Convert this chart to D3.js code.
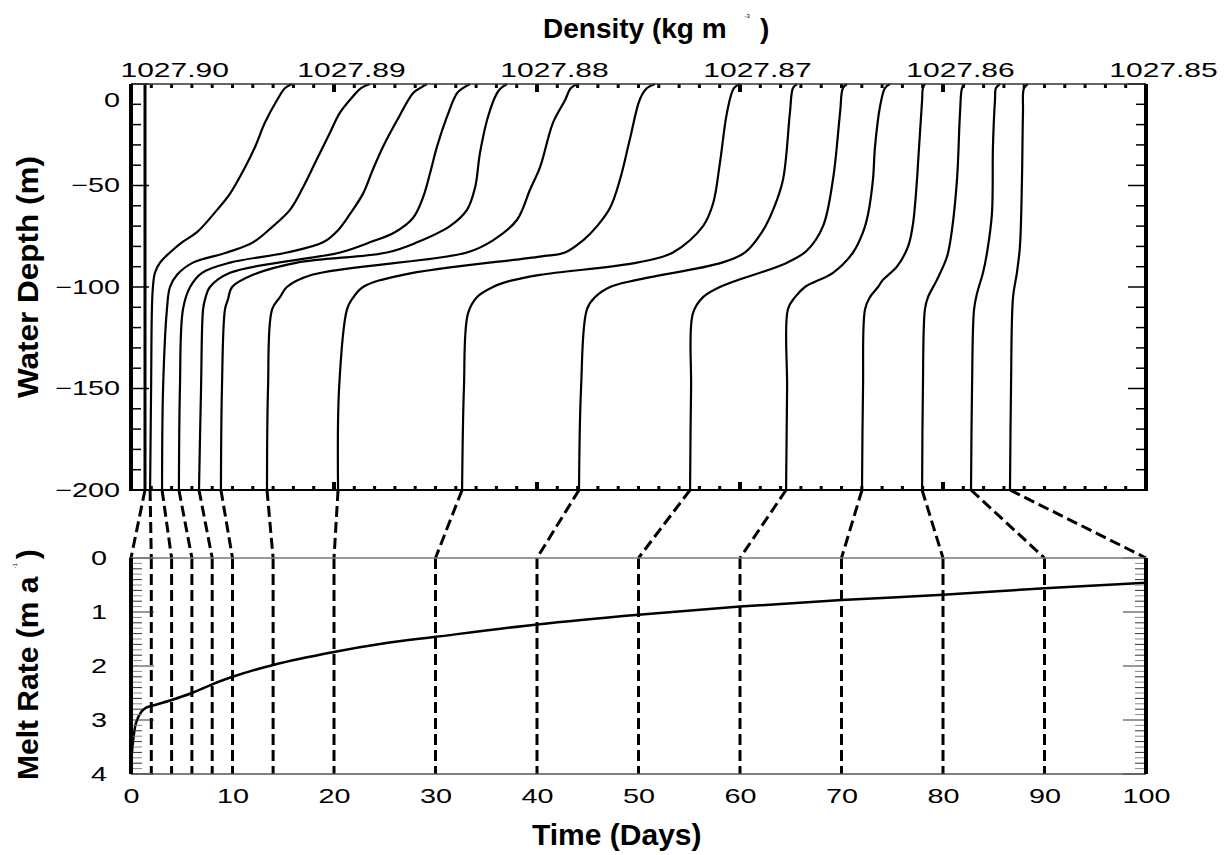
<!DOCTYPE html>
<html>
<head>
<meta charset="utf-8">
<script src="https://cdnjs.cloudflare.com/ajax/libs/d3/7.8.5/d3.min.js"></script>
<style>
  body { margin: 0; background: #fff; }
  text { font-family: "Liberation Sans", Arial, sans-serif; fill: #000; }
</style>
</head>
<body>
<div id="chart-area"></div>
<script>
// time of each profile (days)
var days = [0, 2, 4, 6, 8, 10, 14, 20, 30, 40, 50, 60, 70, 80, 90, 100];

// density profiles [depth (m), density (kg m-3)]
var p000 = [[0,1027.89931],[-200,1027.89931]];
var p002 = [[0,1027.89207],[-2,1027.89241],[-8,1027.89281],[-19,1027.89340],[-31,1027.89389],[-41,1027.89438],[-54,1027.89512],[-62,1027.89576],[-73,1027.89675],[-78,1027.89749],[-83,1027.89808],[-88,1027.89857],[-93,1027.89882],[-100,1027.89892],[-111,1027.89897],[-150,1027.89901],[-200,1027.89906]];
var p004 = [[0,1027.88823],[-2,1027.88867],[-6,1027.88906],[-14,1027.88970],[-24,1027.89020],[-37,1027.89084],[-51,1027.89153],[-62,1027.89217],[-70,1027.89300],[-78,1027.89399],[-83,1027.89527],[-88,1027.89695],[-94,1027.89773],[-100,1027.89808],[-111,1027.89823],[-150,1027.89842],[-200,1027.89847]];
var p006 = [[0,1027.88542],[-2,1027.88576],[-4.5,1027.88611],[-18,1027.88690],[-31,1027.88759],[-42,1027.88808],[-54,1027.88857],[-64,1027.88921],[-72,1027.88980],[-78,1027.89054],[-83,1027.89232],[-88,1027.89512],[-93,1027.89650],[-100,1027.89709],[-111,1027.89744],[-150,1027.89759],[-200,1027.89764]];
var p008 = [[0,1027.88330],[-2,1027.88365],[-4.5,1027.88394],[-16,1027.88443],[-31,1027.88493],[-44,1027.88527],[-56,1027.88562],[-66,1027.88611],[-73,1027.88700],[-78,1027.88823],[-83,1027.88970],[-93,1027.89512],[-100,1027.89611],[-106,1027.89635],[-111,1027.89645],[-150,1027.89655],[-200,1027.89665]];
var p010 = [[0,1027.88148],[-2,1027.88177],[-4.5,1027.88197],[-16,1027.88241],[-34,1027.88281],[-51,1027.88305],[-62,1027.88345],[-70,1027.88429],[-78,1027.88591],[-83,1027.88739],[-88,1027.89182],[-94,1027.89399],[-100,1027.89502],[-106,1027.89522],[-111,1027.89537],[-150,1027.89552],[-200,1027.89557]];
var p014 = [[0,1027.87798],[-2,1027.87833],[-8,1027.87862],[-19,1027.87921],[-41,1027.87985],[-52,1027.88034],[-67,1027.88099],[-77,1027.88217],[-83,1027.88345],[-94,1027.89108],[-100,1027.89232],[-105,1027.89266],[-111,1027.89305],[-150,1027.89325],[-200,1027.89330]];
var p020 = [[0,1027.87419],[-2,1027.87458],[-7.5,1027.87493],[-27,1027.87542],[-47,1027.87591],[-61,1027.87640],[-70,1027.87704],[-77,1027.87773],[-83,1027.87862],[-85,1027.87985],[-94,1027.88660],[-100,1027.88857],[-106,1027.88911],[-111,1027.88936],[-150,1027.88975],[-200,1027.88980]];
var p030 = [[0,1027.87000],[-2,1027.87030],[-14,1027.87064],[-39,1027.87099],[-59,1027.87133],[-70,1027.87182],[-83,1027.87330],[-88,1027.87507],[-94,1027.87985],[-97,1027.88133],[-100,1027.88217],[-105,1027.88296],[-113,1027.88340],[-150,1027.88360],[-200,1027.88369]];
var p040 = [[0,1027.86719],[-2,1027.86739],[-14,1027.86754],[-47,1027.86788],[-62,1027.86837],[-73,1027.86892],[-83,1027.86975],[-88,1027.87089],[-96.5,1027.87507],[-100,1027.87640],[-105,1027.87714],[-111,1027.87754],[-150,1027.87783],[-200,1027.87793]];
var p050 = [[0,1027.86473],[-2,1027.86493],[-14,1027.86507],[-47,1027.86542],[-70,1027.86591],[-82,1027.86670],[-88,1027.86768],[-100,1027.87099],[-105,1027.87182],[-113,1027.87232],[-150,1027.87241],[-200,1027.87246]];
var p060 = [[0,1027.86261],[-2,1027.86286],[-11,1027.86310],[-31,1027.86335],[-47,1027.86345],[-64,1027.86369],[-73,1027.86394],[-83,1027.86443],[-93,1027.86542],[-100,1027.86680],[-105,1027.86729],[-111,1027.86764],[-150,1027.86768],[-200,1027.86773]];
var p070 = [[0,1027.86089],[-2,1027.86099],[-8,1027.86103],[-39,1027.86123],[-47,1027.86128],[-69,1027.86148],[-80,1027.86172],[-90,1027.86227],[-96.5,1027.86296],[-100,1027.86320],[-105,1027.86360],[-111,1027.86384],[-150,1027.86394],[-200,1027.86399]];
var p080 = [[0,1027.85892],[-2,1027.85906],[-14,1027.85916],[-47,1027.85931],[-72,1027.85956],[-85,1027.85980],[-96.5,1027.86030],[-105,1027.86074],[-111,1027.86089],[-150,1027.86099],[-200,1027.86103]];
var p090 = [[0,1027.85719],[-2,1027.85739],[-8,1027.85744],[-31,1027.85754],[-64,1027.85759],[-83,1027.85783],[-93,1027.85803],[-103,1027.85832],[-111,1027.85847],[-150,1027.85857],[-200,1027.85862]];
var p100 = [[0,1027.85581],[-2,1027.85601],[-14,1027.85606],[-47,1027.85611],[-80,1027.85621],[-93,1027.85636],[-105,1027.85655],[-150,1027.85665],[-200,1027.85670]];

var profiles = [p000, p002, p004, p006, p008, p010, p014, p020, p030, p040, p050, p060, p070, p080, p090, p100];

// melt rate curve
var meltDays = [0, 0.2, 0.5, 1, 1.5, 2, 4, 6, 8, 10, 14, 20, 25, 30, 40, 50, 60, 70, 80, 90, 100];
var meltRate = [3.85, 3.4, 3.05, 2.85, 2.77, 2.74, 2.63, 2.5, 2.34, 2.2, 1.98, 1.74, 1.58, 1.46, 1.23, 1.05, 0.9, 0.78, 0.68, 0.56, 0.46];

// tick labels
var densityTicks = [1027.90, 1027.89, 1027.88, 1027.87, 1027.86, 1027.85];
var depthTicks = [0, -50, -100, -150, -200];
var meltTicks = [0, 1, 2, 3, 4];
var dayTicks = [0, 10, 20, 30, 40, 50, 60, 70, 80, 90, 100];

var W = 1228, H = 855;
var left = 131, right = 1146;
var topY = 84, topB = 490, botY = 558, botB = 774;

var svg = d3.select("#chart-area")
    .append("svg")
    .attr("width", W)
    .attr("height", H);

// Scales
var xD = d3.scaleLinear().domain([1027.90, 1027.85]).range([left, right]);
var yZ = d3.scaleLinear().domain([0, -200]).range([topY, topB]);
var xT = d3.scaleLinear().domain([0, 100]).range([left, right]);
var yM = d3.scaleLinear().domain([0, 4]).range([botY, botB]);

// ---------- top panel ----------
var profLine = d3.line()
    .x(function(d){ return xD(d[1]); })
    .y(function(d){ return yZ(d[0]); })
    .curve(d3.curveCatmullRom.alpha(0.5));

svg.append("g").selectAll("path")
    .data(profiles)
    .enter().append("path")
    .attr("fill", "none")
    .attr("stroke", "#000")
    .attr("stroke-width", function(d, i){ return i == 0 ? 3 : 2.2; })
    .attr("d", profLine);

// minor / major ticks on density axis (top and bottom of frame)
var minorD = d3.range(0, 51).map(function(i){ return 1027.90 - i * 0.001; });
var tickG = svg.append("g");
minorD.forEach(function(v, i){
    var major = (i % 10 == 0);
    var w = major ? 4 : 3, h = major ? 8 : 4;
    tickG.append("rect").attr("x", xD(v) - w/2).attr("y", topY).attr("width", w).attr("height", h);
    tickG.append("rect").attr("x", xD(v) - w/2).attr("y", topB - h).attr("width", w).attr("height", h);
});

// depth ticks every 10 m
d3.range(0, -201, -10).forEach(function(v){
    var major = (v % 50 == 0);
    tickG.append("line")
        .attr("x1", left).attr("x2", left + (major ? 18 : 10))
        .attr("y1", yZ(v)).attr("y2", yZ(v))
        .attr("stroke", "#000").attr("stroke-width", 1.5);
    tickG.append("line")
        .attr("x1", right).attr("x2", right - (major ? 18 : 10))
        .attr("y1", yZ(v)).attr("y2", yZ(v))
        .attr("stroke", "#000").attr("stroke-width", 1.5);
});

// frame
svg.append("line").attr("x1", left).attr("x2", right).attr("y1", topY).attr("y2", topY)
    .attr("stroke", "#333").attr("stroke-width", 1.5);
svg.append("line").attr("x1", left).attr("x2", right).attr("y1", topB).attr("y2", topB)
    .attr("stroke", "#000").attr("stroke-width", 2);
svg.append("line").attr("x1", left).attr("x2", left).attr("y1", topY).attr("y2", topB + 1)
    .attr("stroke", "#000").attr("stroke-width", 4);
svg.append("line").attr("x1", right).attr("x2", right).attr("y1", topY).attr("y2", topB + 1)
    .attr("stroke", "#000").attr("stroke-width", 4);

// density labels
var topAxis = svg.append("g")
    .attr("transform", "translate(0," + topY + ")")
    .call(d3.axisTop(xD).tickValues(densityTicks).tickSize(0).tickFormat(d3.format(".2f")));
topAxis.select(".domain").remove();
topAxis.selectAll("text")
    .attr("font-size", "20px")
    .attr("font-family", "Liberation Sans, Arial, sans-serif")
    .attr("y", -7).attr("dy", null)
    .attr("text-anchor", function(d, i){ return i == 0 ? "start" : "middle"; })
    .attr("transform", function(d, i){
        return i == 0 ? "translate(-11,0) scale(1.5,1)" : "translate(17,0) scale(1.5,1)";
    });

// depth labels
var leftAxis = svg.append("g")
    .attr("transform", "translate(" + left + ",0)")
    .call(d3.axisLeft(yZ).tickValues(depthTicks).tickSize(0));
leftAxis.select(".domain").remove();
leftAxis.selectAll("text")
    .attr("font-size", "20px")
    .attr("font-family", "Liberation Sans, Arial, sans-serif")
    .attr("x", 0)
    .attr("transform", function(d){ return d == 0 ? "translate(-11,16) scale(1.44,1)" : "translate(-11,0) scale(1.44,1)"; });

// ---------- connectors ----------
var dash = svg.append("g")
    .attr("fill", "none")
    .attr("stroke", "#000")
    .attr("stroke-width", 3)
    .attr("stroke-dasharray", "11,5");
profiles.forEach(function(p, i){
    var bottom = p[p.length - 1];
    dash.append("line")
        .attr("x1", xD(bottom[1])).attr("y1", yZ(bottom[0]))
        .attr("x2", xT(days[i])).attr("y2", yM(0));
    dash.append("line")
        .attr("x1", xT(days[i])).attr("y1", yM(0))
        .attr("x2", xT(days[i])).attr("y2", yM(4));
});

// ---------- bottom panel ----------
var meltLine = d3.line()
    .x(function(d, i){ return xT(meltDays[i]); })
    .y(function(d){ return yM(d); })
    .curve(d3.curveCatmullRom.alpha(0.5));
svg.append("path")
    .attr("fill", "none")
    .attr("stroke", "#000")
    .attr("stroke-width", 2.5)
    .attr("d", meltLine(meltRate));

// melt ticks every 0.1
d3.range(0, 41).forEach(function(i){
    var v = i / 10;
    var major = (i % 10 == 0);
    var len = major ? 23 : 11;
    svg.append("line")
        .attr("x1", left).attr("x2", left + len)
        .attr("y1", yM(v)).attr("y2", yM(v))
        .attr("stroke", i % 2 ? "#888" : "#333").attr("stroke-width", 1);
    svg.append("line")
        .attr("x1", right).attr("x2", right - len)
        .attr("y1", yM(v)).attr("y2", yM(v))
        .attr("stroke", i % 2 ? "#888" : "#333").attr("stroke-width", 1);
});

svg.append("line").attr("x1", left).attr("x2", right).attr("y1", botY).attr("y2", botY)
    .attr("stroke", "#777").attr("stroke-width", 1.5);
svg.append("line").attr("x1", left).attr("x2", right).attr("y1", botB).attr("y2", botB)
    .attr("stroke", "#555").attr("stroke-width", 1.5);
svg.append("line").attr("x1", left).attr("x2", left).attr("y1", botY).attr("y2", botB)
    .attr("stroke", "#000").attr("stroke-width", 4);
svg.append("line").attr("x1", right).attr("x2", right).attr("y1", botY).attr("y2", botB)
    .attr("stroke", "#000").attr("stroke-width", 4);

var meltAxis = svg.append("g")
    .attr("transform", "translate(" + left + ",0)")
    .call(d3.axisLeft(yM).tickValues(meltTicks).tickSize(0).tickFormat(d3.format("d")));
meltAxis.select(".domain").remove();
meltAxis.selectAll("text")
    .attr("font-size", "20px")
    .attr("font-family", "Liberation Sans, Arial, sans-serif")
    .attr("x", 0)
    .attr("text-anchor", "middle")
    .attr("transform", "translate(-32,0) scale(1.44,1)");

var dayAxis = svg.append("g")
    .attr("transform", "translate(0," + botB + ")")
    .call(d3.axisBottom(xT).tickValues(dayTicks).tickSize(0).tickFormat(d3.format("d")));
dayAxis.select(".domain").remove();
dayAxis.selectAll("text")
    .attr("font-size", "20px")
    .attr("font-family", "Liberation Sans, Arial, sans-serif")
    .attr("y", 29).attr("dy", null)
    .attr("transform", "scale(1.44,1)");

// ---------- titles ----------
var t1 = svg.append("text")
    .attr("transform", "translate(543,38)")
    .attr("font-size", "28px").attr("font-weight", "bold");
t1.append("tspan").text("Density (kg m");
t1.append("tspan").attr("font-size", "6px").attr("dy", -20).attr("dx", 18).attr("font-weight", "normal").text("-3");
t1.append("tspan").attr("dy", 20).attr("dx", 10).text(")");

svg.append("text")
    .attr("transform", "translate(38,277) rotate(-90) scale(1.05,1)")
    .attr("text-anchor", "middle")
    .attr("font-size", "30px").attr("font-weight", "bold")
    .text("Water Depth (m)");

var t3 = svg.append("text")
    .attr("transform", "translate(38,780) rotate(-90)")
    .attr("font-size", "30px").attr("font-weight", "bold");
t3.append("tspan").text("Melt Rate (m a");
t3.append("tspan").attr("font-size", "6px").attr("dy", -21).attr("dx", 8).attr("font-weight", "normal").text("-1");
t3.append("tspan").attr("dy", 21).attr("dx", 4).text(")");

svg.append("text")
    .attr("transform", "translate(532,845)")
    .attr("font-size", "30px").attr("font-weight", "bold")
    .text("Time (Days)");
</script>
</body>
</html>
